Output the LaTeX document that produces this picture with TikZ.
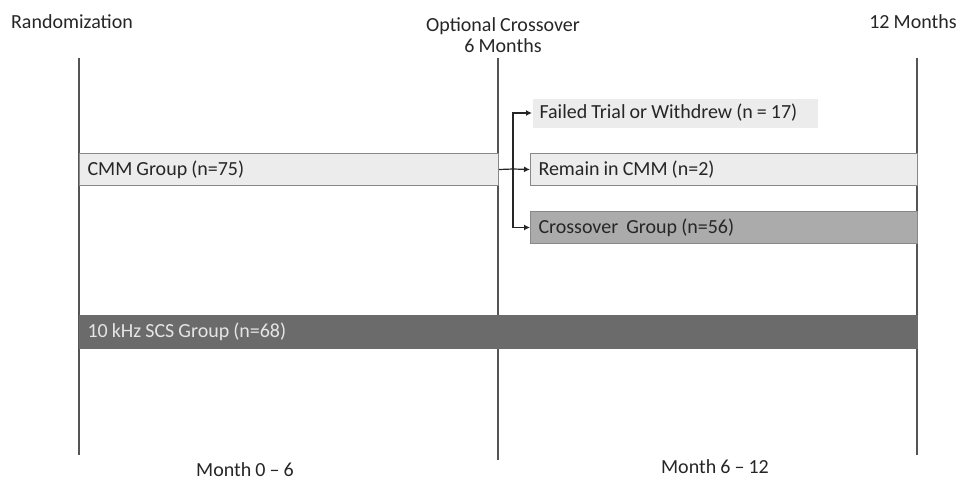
\documentclass[tikz,border=0pt]{standalone}
\usepackage{fontspec}
\setmainfont{Carlito}[WordSpace=0.9]
\usetikzlibrary{arrows.meta}
\definecolor{txt}{HTML}{262626}
\definecolor{ln}{HTML}{555555}
\definecolor{light}{HTML}{ECECEC}
\definecolor{mid}{HTML}{ABABAB}
\definecolor{dark}{HTML}{6B6B6B}
\newcommand{\lft}[2]{\makebox[#1pt][l]{#2}}
\tikzset{
  lbl/.style={font=\fontsize{20}{21.5}\selectfont, text=txt, inner sep=0pt},
  bx/.style={draw=ln!70, line width=1pt, anchor=north west, inner xsep=8pt, inner ysep=0pt,
    font=\fontsize{20}{21.5}\selectfont, text=txt},
  tl/.style={draw=ln, line width=1.3pt},
  arr/.style={draw=black!85, line width=1.2pt, -{Latex[length=6pt,width=6pt]}}
}
\begin{document}
\begin{tikzpicture}[x=1pt,y=-1pt]
\useasboundingbox (0,0) rectangle (962,482);
% timeline coordinates
\coordinate (l0) at (79,58);  \coordinate (l1) at (79,455);
\coordinate (m0) at (498,58); \coordinate (m1) at (498,460);
\coordinate (r0) at (917,58); \coordinate (r1) at (917,455);
\draw[tl] (l0) -- (l1);
\draw[tl] (m0) -- (m1);
\draw[tl] (r0) -- (r1);
% headings
\node[lbl] (rand) at (72,22) {Randomization};
\node[lbl, align=center] (opt) at (503,35) {Optional Crossover\\6 Months};
\node[lbl] (twelve) at (913,22) {12 Months};
\node[lbl] (m06) at (245,470) {Month 0 -- 6};
\node[lbl] (m612) at (715,467) {Month 6 -- 12};
% boxes
\node[bx, fill=light, minimum width=419, minimum height=32] (cmm) at (79,153) {\lft{403}{CMM Group (n=75)}};
\node[bx, draw=none, fill=light, minimum width=285, minimum height=29, inner xsep=7pt] (fail) at (532,98) {\lft{271}{Failed Trial or Withdrew (n = 17)}};
\node[bx, fill=light, minimum width=387, minimum height=32] (rem) at (530,153) {\lft{371}{Remain in CMM (n=2)}};
\node[bx, fill=mid, minimum width=387, minimum height=32] (cross) at (530,211) {\lft{371}{Crossover\ \ Group (n=56)}};
\node[bx, fill=dark, draw=dark, text=black!10, minimum width=838, minimum height=33] (scs) at (79,315) {\lft{822}{10 kHz SCS Group (n=68)}};
% connectors
\coordinate (br) at (513,169);
\draw[draw=black!85, line width=1.2pt] (cmm.east) -- (br);
\draw[arr] (br) |- (fail.west);
\draw[arr] (br) -- (rem.west);
\draw[arr] (br) |- (cross.west);
\end{tikzpicture}
\end{document}
